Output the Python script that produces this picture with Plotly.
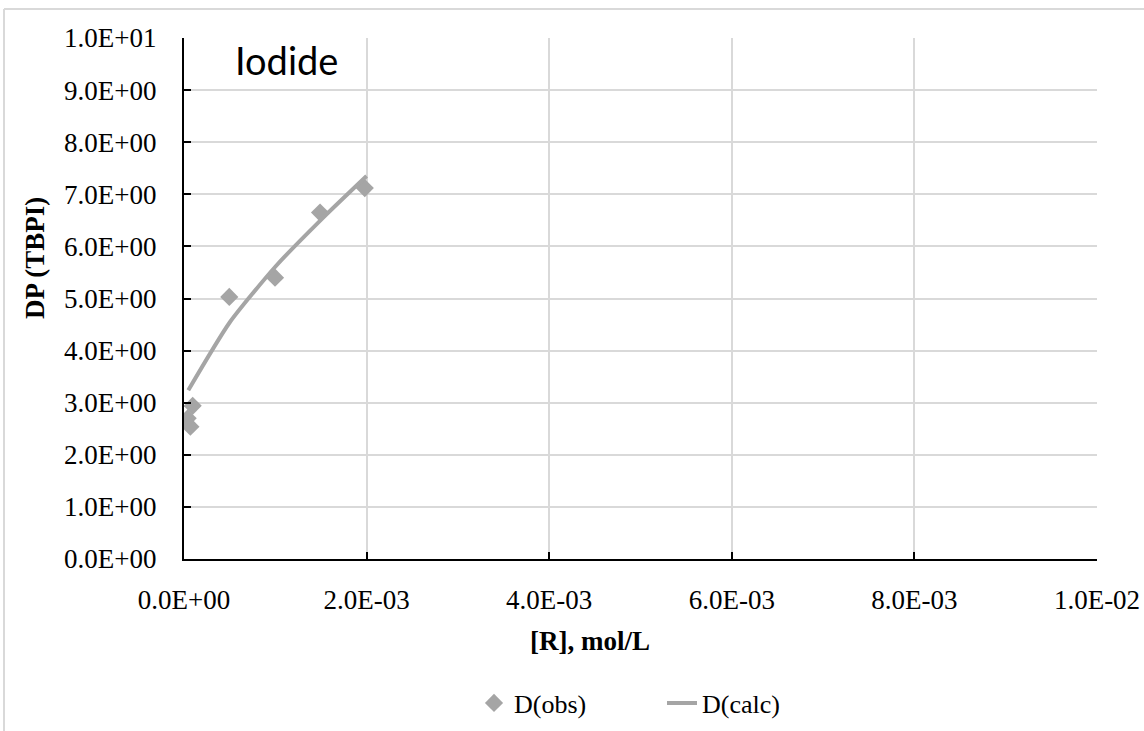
import plotly.graph_objects as go

# ---- data ----
r_obs = [0.0000950, 0.0000400, 0.0000700, 0.000496, 0.000997, 0.00149, 0.00198]
d_obs = [2.94, 2.70, 2.54, 5.03, 5.40, 6.65, 7.12]
r_calc = [0.000047, 0.0005, 0.0010, 0.0015, 0.0020]
d_calc = [3.24, 4.54, 5.61, 6.51, 7.35]

x_tickvals = [0, 0.002, 0.004, 0.006, 0.008, 0.010]
x_ticktext = ["0.0E+00", "2.0E-03", "4.0E-03", "6.0E-03", "8.0E-03", "1.0E-02"]
y_tickvals = [0, 1, 2, 3, 4, 5, 6, 7, 8, 9, 10]
y_ticktext = ["0.0E+00", "1.0E+00", "2.0E+00", "3.0E+00", "4.0E+00", "5.0E+00",
              "6.0E+00", "7.0E+00", "8.0E+00", "9.0E+00", "1.0E+01"]

GREY = "#a5a5a5"
SERIF = "Liberation Serif, Times New Roman, serif"

W, H = 1144, 731
L, R, T, B = 184, 47, 38, 172
pw, ph = W - L - R, H - T - B


def px_x(p):
    return (p - L) / pw


def px_y(p):
    return (H - B - p) / ph


fig = go.Figure()
fig.add_trace(go.Scatter(
    x=r_obs, y=d_obs, mode="markers", name="D(obs)", legend="legend",
    marker=dict(symbol="diamond", size=14, color=GREY, line=dict(width=0)),
))
fig.add_trace(go.Scatter(
    x=r_calc, y=d_calc, mode="lines", name="D(calc)", legend="legend2",
    line=dict(color=GREY, width=4, shape="spline", smoothing=0.6),
))

axis_common = dict(
    showline=True, linecolor="black", linewidth=2,
    showgrid=True, gridcolor="#d9d9d9", gridwidth=1.5,
    zeroline=False, ticks="inside", ticklen=7, tickwidth=2, tickcolor="black",
    tickfont=dict(family=SERIF, size=27, color="black"), automargin=False,
)

legend_common = dict(
    orientation="h", xanchor="left", yanchor="middle", y=px_y(703),
    font=dict(family=SERIF, size=26, color="black"),
    bgcolor="rgba(0,0,0,0)", itemsizing="trace",
)

fig.update_layout(
    width=W, height=H,
    margin=dict(l=L, r=R, t=T, b=B, autoexpand=False),
    paper_bgcolor="white", plot_bgcolor="white",
    xaxis=dict(range=[0, 0.01], tickvals=x_tickvals, ticktext=x_ticktext,
               ticklabelstandoff=16, **axis_common),
    yaxis=dict(range=[0, 10], tickvals=y_tickvals, ticktext=y_ticktext,
               ticklabelstandoff=20, **axis_common),
    showlegend=True,
    legend=dict(x=px_x(474), **legend_common),
    legend2=dict(x=px_x(662), **legend_common),
)

fig.add_annotation(text="<b>[R], mol/L</b>", xref="paper", yref="paper",
                   x=px_x(590), y=px_y(641), xanchor="center", yanchor="middle",
                   showarrow=False, font=dict(family=SERIF, size=27, color="black"))
fig.add_annotation(text="<b>DP (TBPI)</b>", xref="paper", yref="paper",
                   x=px_x(35), y=px_y(258), xanchor="center", yanchor="middle",
                   textangle=-90, showarrow=False,
                   font=dict(family=SERIF, size=27, color="black"))
fig.add_annotation(text="Iodide", xref="paper", yref="paper",
                   x=px_x(233), y=px_y(60), xanchor="left", yanchor="middle",
                   showarrow=False, font=dict(family="Lato, Open Sans, sans-serif", size=38, color="black"))

# outer chart-area border (left and top visible)
fig.add_shape(type="line", xref="paper", yref="paper",
              x0=px_x(4), x1=px_x(4), y0=px_y(9), y1=px_y(760),
              line=dict(color="#d9d9d9", width=2))
fig.add_shape(type="line", xref="paper", yref="paper",
              x0=px_x(4), x1=px_x(1160), y0=px_y(9), y1=px_y(9),
              line=dict(color="#d9d9d9", width=2))

fig.write_html("out.html")
